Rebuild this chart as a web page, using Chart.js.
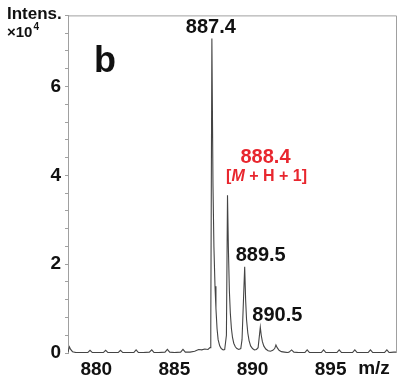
<!DOCTYPE html>
<html>
<head>
<meta charset="utf-8">
<script src="https://cdn.jsdelivr.net/npm/chart.js@4/dist/chart.umd.min.js"></script>
<style>
  html, body { margin: 0; padding: 0; background: #fff; }
  #wrap { width: 398px; height: 380px; position: relative; }
</style>
</head>
<body>
<div id="wrap"><canvas id="ms"></canvas></div>
<script>
// Mass spectrum, m/z vs intensity (x10^4)
const mz = [
  878.19, 878.28, 878.36, 878.48, 878.7, 879.0, 879.3,
  879.45, 879.6, 879.75, 880.05,
  880.45, 880.6, 880.75, 881.05,
  881.4, 881.55, 881.7, 882.0,
  882.4, 882.55, 882.7, 883.0,
  883.4, 883.55, 883.7, 884.0,
  884.4, 884.55, 884.7, 885.0,
  885.4, 885.55, 885.7, 886.0,
  886.3, 886.55, 886.75, 886.95, 887.15, 887.28,
  887.33, 887.4, 887.47, 887.53, 887.6, 887.66, 887.73, 887.8, 887.9, 888.0, 888.12, 888.22,
  888.33, 888.4, 888.46, 888.52, 888.58, 888.65, 888.72, 888.8, 888.9, 889.0, 889.12, 889.25,
  889.33, 889.5, 889.56, 889.62, 889.7, 889.78, 889.88, 890.0, 890.12, 890.25,
  890.36, 890.5, 890.56, 890.63, 890.72, 890.85, 891.0, 891.15, 891.3,
  891.42, 891.5, 891.58, 891.7, 891.85, 892.05, 892.25,
  892.35, 892.5, 892.65, 892.95,
  893.35, 893.5, 893.65, 893.95,
  894.4, 894.55, 894.7, 895.0,
  895.4, 895.55, 895.7, 896.0,
  896.4, 896.55, 896.7, 897.0,
  897.4, 897.55, 897.7, 898.0,
  898.45, 898.6, 898.75, 899.05, 899.25
];
const intensity = [
  0.02, 0.14, 0.08, 0.03, 0.01, 0.01, 0.01,
  0.01, 0.06, 0.01, 0.01,
  0.01, 0.06, 0.01, 0.01,
  0.01, 0.06, 0.01, 0.01,
  0.01, 0.07, 0.01, 0.01,
  0.02, 0.07, 0.01, 0.01,
  0.02, 0.08, 0.02, 0.01,
  0.02, 0.08, 0.02, 0.02,
  0.04, 0.08, 0.07, 0.09, 0.08, 0.12,
  0.6, 7.08, 3.8, 2.4, 1.5, 1.0, 0.55, 0.3, 0.16, 0.1, 0.07, 0.08,
  0.4, 3.55, 2.3, 1.4, 0.9, 0.55, 0.35, 0.22, 0.14, 0.1, 0.08, 0.1,
  0.3, 1.94, 1.2, 0.75, 0.45, 0.28, 0.16, 0.1, 0.07, 0.08,
  0.12, 0.58, 0.4, 0.26, 0.16, 0.09, 0.05, 0.04, 0.06,
  0.1, 0.18, 0.12, 0.06, 0.03, 0.02, 0.01,
  0.02, 0.07, 0.02, 0.01,
  0.01, 0.07, 0.01, 0.01,
  0.01, 0.07, 0.01, 0.01,
  0.01, 0.07, 0.01, 0.01,
  0.01, 0.07, 0.01, 0.01,
  0.01, 0.07, 0.01, 0.01,
  0.01, 0.07, 0.01, 0.02, 0.02
];

// Labelled peaks
const peakLabels = ['887.4', '888.4', '889.5', '890.5'];
const peakMz = [887.4, 888.4, 889.5, 890.5];
const xTickValues = [880, 885, 890, 895];
const yTickLabels = ['0', '2', '4', '6'];

const FONT = '"Liberation Sans", Arial, sans-serif';

const points = mz.map((x, i) => ({ x: x, y: intensity[i] }));

const annotate = {
  id: 'annotate',
  afterDraw(chart) {
    const { ctx, chartArea: a, scales: { x, y } } = chart;
    ctx.save();
    // top and right frame
    ctx.strokeStyle = '#a0a0a0';
    ctx.lineWidth = 1;
    ctx.beginPath();
    ctx.moveTo(a.left, a.top + 0.5);
    ctx.lineTo(a.right - 0.5, a.top + 0.5);
    ctx.lineTo(a.right - 0.5, a.bottom);
    ctx.stroke();

    ctx.textAlign = 'center';
    ctx.textBaseline = 'middle';
    ctx.fillStyle = '#111';

    // peak labels
    const offsets = [[-1, -11], [38, -38], [16, -11], [17, -12]];
    peakLabels.forEach((lab, i) => {
      const idx = mz.indexOf(peakMz[i]);
      const px = x.getPixelForValue(peakMz[i]);
      const py = y.getPixelForValue(intensity[idx]);
      ctx.font = 'bold 20px ' + FONT;
      ctx.fillStyle = i === 1 ? '#e8262e' : '#111';
      ctx.fillText(lab, px + offsets[i][0], py + offsets[i][1]);
      if (i === 1) {
        // [M + H + 1] with italic M
        const parts = [
          ['[', 'bold 16px '],
          ['M', 'italic bold 16px '],
          [' + H + 1]', 'bold 16px ']
        ];
        let total = 0;
        parts.forEach(p => { ctx.font = p[1] + FONT; total += ctx.measureText(p[0]).width; });
        let cx = px + offsets[i][0] + 1 - total / 2;
        ctx.textAlign = 'left';
        parts.forEach(p => {
          ctx.font = p[1] + FONT;
          ctx.fillText(p[0], cx, py + offsets[i][1] + 19);
          cx += ctx.measureText(p[0]).width;
        });
        ctx.textAlign = 'center';
      }
    });

    ctx.fillStyle = '#111';
    // panel letter
    ctx.font = 'bold 36px ' + FONT;
    ctx.fillText('b', 105, 62);

    // x-axis unit
    ctx.font = 'bold 19px ' + FONT;
    ctx.fillText('m/z', 374, 369);

    // y-axis title
    ctx.textAlign = 'left';
    ctx.font = 'bold 17px ' + FONT;
    ctx.fillText('Intens.', 7, 14);
    ctx.font = 'bold 15px ' + FONT;
    ctx.fillText('\u00d710', 7, 33);
    const w = ctx.measureText('\u00d710').width;
    ctx.font = 'bold 10px ' + FONT;
    ctx.fillText('4', 7 + w + 1, 27);
    ctx.restore();
  }
};

new Chart(document.getElementById('ms'), {
  type: 'line',
  data: {
    datasets: [{
      data: points,
      borderColor: '#444',
      borderWidth: 1.1,
      pointRadius: 0,
      tension: 0,
      fill: false
    }]
  },
  options: {
    responsive: true,
    maintainAspectRatio: false,
    animation: false,
    events: [],
    layout: { padding: { top: 7, right: 1, left: 0, bottom: 0 } },
    plugins: { legend: { display: false }, tooltip: { enabled: false } },
    scales: {
      x: {
        type: 'linear',
        min: 878.19,
        max: 899.25,
        afterBuildTicks: s => { s.ticks = xTickValues.map(v => ({ value: v })); },
        afterFit: s => { s.height = 27; },
        grid: { display: false, drawTicks: false },
        border: { display: false },
        ticks: {
          padding: 5,
          color: '#111',
          font: { family: FONT, size: 19, weight: 'bold' },
          maxRotation: 0,
          autoSkip: false,
          callback: v => String(v)
        }
      },
      y: {
        min: 0,
        max: 7.6,
        afterFit: s => { s.width = 68; },
        grid: { drawOnChartArea: false, color: '#a0a0a0', tickLength: 3 },
        border: { color: '#a0a0a0' },
        ticks: {
          stepSize: 0.4,
          padding: 4,
          autoSkip: false,
          color: '#111',
          font: { family: FONT, size: 19, weight: 'bold' },
          callback: v => {
            const k = v / 2;
            return Math.abs(k - Math.round(k)) < 1e-6 ? yTickLabels[Math.round(k)] : '';
          }
        }
      }
    }
  },
  plugins: [annotate]
});
</script>
</body>
</html>
